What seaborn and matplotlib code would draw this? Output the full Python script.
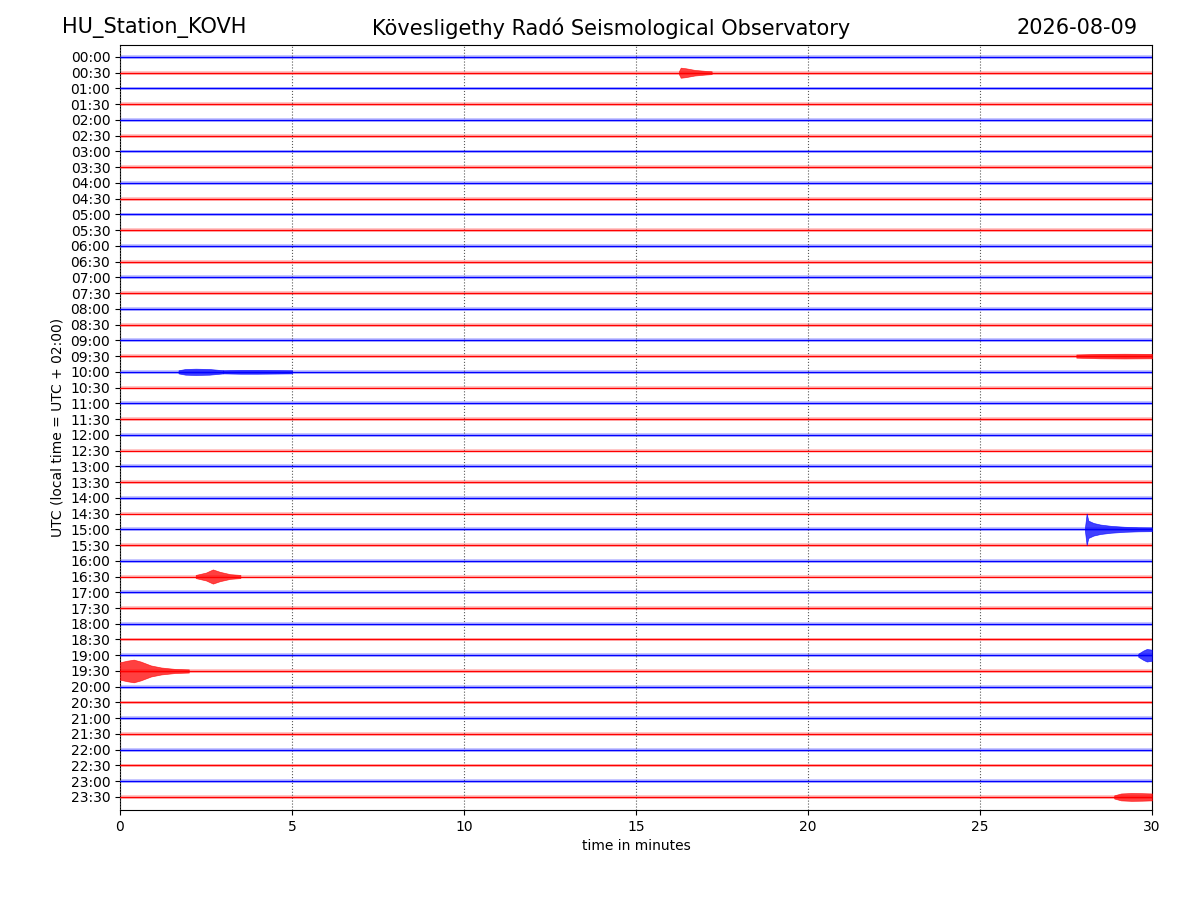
import matplotlib
matplotlib.use("Agg")
import matplotlib.pyplot as plt
import seaborn as sns
import pandas as pd

# row labels (every 30 minutes of the day)
row_labels = [f"{h:02d}:{m:02d}" for h in range(24) for m in (0, 30)]
row_colors = ["blue" if i % 2 == 0 else "red" for i in range(len(row_labels))]

# noise band half-width (in row units)
noise_level = 0.12

# events: row index, envelope times (minutes) and half-amplitudes (row units)
ev_rows = [1, 20, 20, 30, 33, 38, 39, 47, 19]
ev_times = [
    [16.25, 16.3, 16.45, 16.7, 17.0, 17.2],
    [1.7, 1.9, 2.2, 2.6, 2.8, 3.0],
    [3.0, 3.5, 4.0, 4.5, 5.0],
    [28.05, 28.1, 28.15, 28.3, 28.5, 28.8, 29.2, 29.6, 30.0],
    [2.2, 2.5, 2.7, 2.9, 3.2, 3.5],
    [29.6, 29.75, 29.85, 30.0],
    [0.0, 0.2, 0.4, 0.6, 0.9, 1.2, 1.6, 2.0],
    [28.9, 29.1, 29.4, 29.7, 30.0],
    [27.8, 28.5, 29.2, 30.0],
]
ev_amps = [
    [0.1, 0.32, 0.28, 0.18, 0.12, 0.09],
    [0.1, 0.18, 0.2, 0.18, 0.14, 0.1],
    [0.1, 0.12, 0.12, 0.11, 0.1],
    [0.1, 1.0, 0.55, 0.4, 0.3, 0.22, 0.16, 0.13, 0.12],
    [0.1, 0.25, 0.45, 0.3, 0.15, 0.1],
    [0.1, 0.3, 0.4, 0.35],
    [0.55, 0.65, 0.72, 0.6, 0.35, 0.22, 0.13, 0.1],
    [0.1, 0.22, 0.25, 0.24, 0.22],
    [0.1, 0.14, 0.15, 0.14],
]

sns.set_style("ticks", {"text.color": "black", "axes.labelcolor": "black",
                        "xtick.color": "black", "ytick.color": "black",
                        "axes.edgecolor": "black"})
fig = plt.figure(figsize=(12, 9), dpi=100)
ax = fig.add_axes([0.1, 0.1, 0.86, 0.85])

n_rows = len(row_labels)
base = pd.DataFrame({
    "minute": [0.0, 30.0] * n_rows,
    "row": [i for i in range(n_rows) for _ in range(2)],
    "trace": [row_colors[i] for i in range(n_rows) for _ in range(2)],
})
sns.lineplot(data=base, x="minute", y="row", units="row", estimator=None,
             hue="trace", palette={"blue": "blue", "red": "red"},
             linewidth=1.0, legend=False, ax=ax, zorder=3)

for i in range(n_rows):
    ax.fill_between([0, 30], i - noise_level, i + noise_level,
                    color=row_colors[i], alpha=0.22, lw=0, zorder=2)

for r, ts, am in zip(ev_rows, ev_times, ev_amps):
    lo = [r - a for a in am]
    hi = [r + a for a in am]
    ax.fill_between(ts, lo, hi, color=row_colors[r], alpha=0.75, lw=0.5,
                    edgecolor=row_colors[r], zorder=4)

ax.set_xlim(0, 30)
ax.set_ylim(47.83, -0.76)
ax.set_xticks(range(0, 31, 5))
ax.set_yticks(range(n_rows))
ax.set_yticklabels(row_labels)
ax.grid(axis="x", linestyle=":", color="0.35", linewidth=0.8)
ax.set_axisbelow(False)
for s in ax.spines.values():
    s.set_visible(True)
    s.set_color("black")
ax.set_xlabel("time in minutes")
ax.set_ylabel("UTC (local time = UTC + 02:00)")

fig.text(0.052, 0.969, "HU_Station_KOVH", fontsize=15, ha="left", va="center")
fig.text(0.509, 0.969, "Kövesligethy Radó Seismological Observatory",
         fontsize=15, ha="center", va="center")
fig.text(0.948, 0.969, "2026-08-09", fontsize=15, ha="right", va="center")

plt.savefig("out.png", dpi=100)
